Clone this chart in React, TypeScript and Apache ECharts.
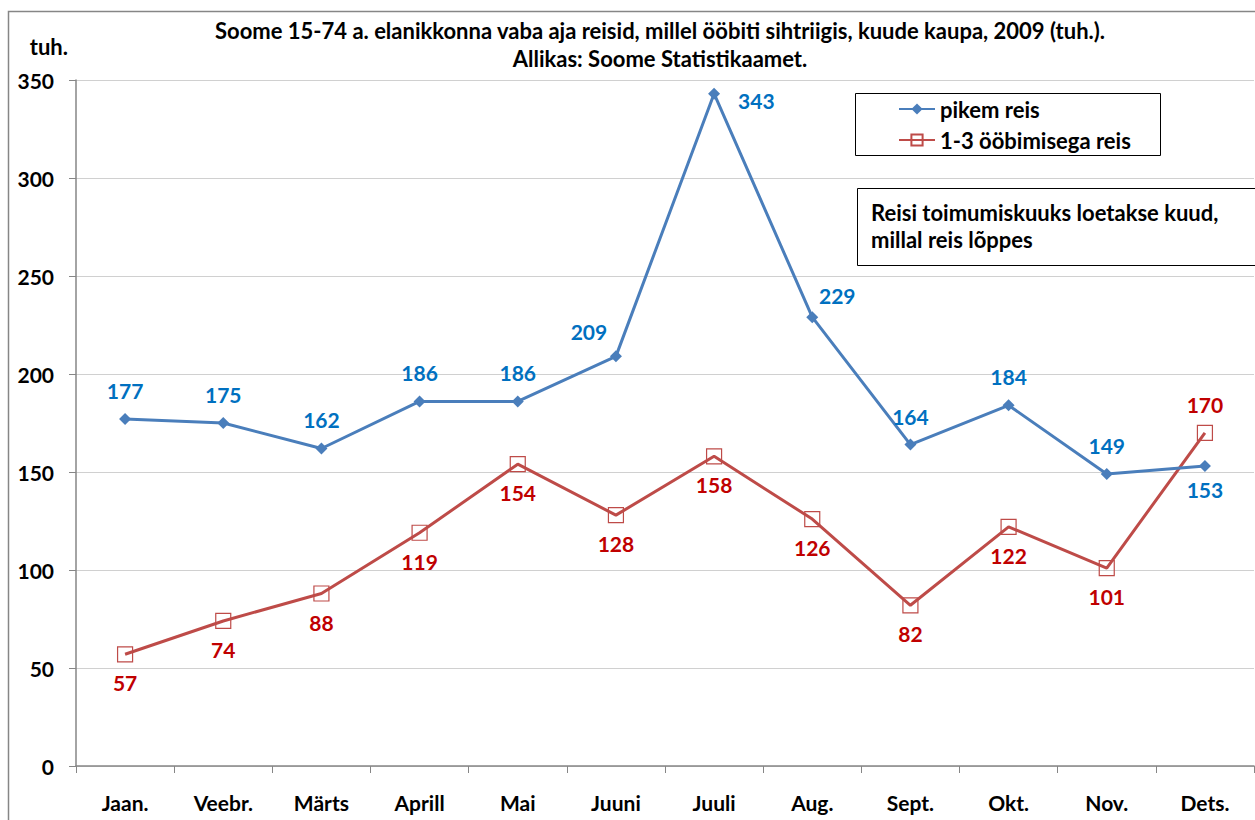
import React, { useEffect, useRef } from "react";
import * as echarts from "echarts";

const months = ["Jaan.", "Veebr.", "Märts", "Aprill", "Mai", "Juuni", "Juuli", "Aug.", "Sept.", "Okt.", "Nov.", "Dets."];
const pikemReis = [177, 175, 162, 186, 186, 209, 343, 229, 164, 184, 149, 153];
const lyhikeReis = [57, 74, 88, 119, 154, 128, 158, 126, 82, 122, 101, 170];
const seriesNames = ["pikem reis", "1-3 ööbimisega reis"];
const titleLines = [
  "Soome 15-74 a. elanikkonna vaba aja reisid, millel ööbiti sihtriigis, kuude kaupa, 2009 (tuh.).",
  "Allikas: Soome Statistikaamet.",
];
const noteText = "Reisi toimumiskuuks loetakse kuud,\nmillal reis lõppes";

const FONT = "Lato, 'Open Sans', sans-serif";
const BLUE = "#4A7EBB";
const BLUE_LABEL = "#0070C0";
const RED = "#BE4B48";
const RED_LABEL = "#C00000";

export default function App() {
  const ref = useRef<HTMLDivElement>(null);
  useEffect(() => {
    if (!ref.current) return;
    const chart = echarts.init(ref.current, null, { renderer: "svg" });
    const blueData = pikemReis.map((v, i) => {
      let label: any = { position: "top" };
      if (i === 5) label = { position: "top", offset: [-27, 4] };
      if (i === 7) label = { position: "top", offset: [25, 7] };
      if (i === 6) label = { position: "right", distance: 18, offset: [0, 7] };
      if (i === 11) label = { position: "bottom", distance: 7 };
      return { value: v, label };
    });
    const redData = lyhikeReis.map((v, i) => ({
      value: v,
      label: { position: i === 11 ? "top" : "bottom" },
    }));
    chart.setOption({
      animation: false,
      backgroundColor: "#fff",
      textStyle: { fontFamily: FONT },
      title: {
        text: titleLines.join("\n"),
        left: 655,
        textAlign: "center",
        top: 11,
        textStyle: { fontFamily: FONT, fontSize: 22, fontWeight: "bold", color: "#000", lineHeight: 28 },
      },
      grid: { left: 76, top: 80, right: 1, bottom: 54, containLabel: false },
      legend: {
        orient: "vertical",
        left: 893,
        top: 93,
        itemWidth: 36,
        itemHeight: 14,
        itemGap: 9,
        textStyle: { fontFamily: FONT, fontSize: 22, fontWeight: "bold", color: "#000" },
        data: seriesNames,
      },
      xAxis: {
        type: "category",
        data: months,
        boundaryGap: true,
        axisLine: { lineStyle: { color: "#868686", width: 1.5 } },
        axisTick: { show: true, length: 7, alignWithLabel: false, lineStyle: { color: "#868686" } },
        axisLabel: { fontFamily: FONT, fontSize: 21, fontWeight: "bold", color: "#000", margin: 26, interval: 0 },
        splitLine: { show: false },
      },
      yAxis: {
        type: "value",
        min: 0,
        max: 350,
        interval: 50,
        axisLine: { show: true, lineStyle: { color: "#868686", width: 1.5 } },
        axisTick: { show: true, length: 7, lineStyle: { color: "#868686" } },
        axisLabel: { fontFamily: FONT, fontSize: 21, fontWeight: "bold", color: "#000", margin: 22 },
        splitLine: { lineStyle: { color: "#D0D0D0", width: 1 } },
        name: "tuh.",
        nameLocation: "end",
        nameGap: 23,
        nameTextStyle: { fontFamily: FONT, fontSize: 22, fontWeight: "bold", color: "#000", align: "right", padding: [0, 8, 0, 0] },
      },
      series: [
        {
          name: seriesNames[0],
          type: "line",
          data: blueData,
          symbol: "diamond",
          symbolSize: 12,
          lineStyle: { color: BLUE, width: 3 },
          itemStyle: { color: BLUE },
          label: {
            show: true,
            distance: 12,
            fontFamily: FONT,
            fontSize: 21,
            fontWeight: "bold",
            color: BLUE_LABEL,
          },
          z: 3,
        },
        {
          name: seriesNames[1],
          type: "line",
          data: redData,
          symbol: "rect",
          symbolSize: 15,
          lineStyle: { color: RED, width: 3 },
          itemStyle: { color: "rgba(255,255,255,0)", borderColor: RED, borderWidth: 1.2 },
          label: {
            show: true,
            distance: 10,
            fontFamily: FONT,
            fontSize: 21,
            fontWeight: "bold",
            color: RED_LABEL,
          },
          z: 2,
        },
      ],
      graphic: [
        {
          type: "rect",
          shape: { x: 8.5, y: 11.5, width: 1260, height: 830 },
          style: { fill: "none", stroke: "#868686", lineWidth: 1.5 },
          silent: true,
          z: -10,
        },
        {
          type: "rect",
          shape: { x: 855.5, y: 93.5, width: 305, height: 62 },
          style: { fill: "#fff", stroke: "#000", lineWidth: 1 },
          z: -1,
        },
        {
          type: "rect",
          shape: { x: 857.5, y: 188.5, width: 410, height: 77 },
          style: { fill: "#fff", stroke: "#000", lineWidth: 1 },
          z: 10,
        },
        {
          type: "text",
          x: 871,
          y: 199,
          style: {
            text: noteText,
            fontFamily: FONT,
            fontSize: 22,
            fontWeight: "bold",
            fill: "#000",
            lineHeight: 27,
          },
          z: 11,
        },
      ],
    });
    return () => chart.dispose();
  }, []);
  return (
    <div
      ref={ref}
      style={{ position: "absolute", left: 0, top: 0, width: 1255, height: 820 }}
    />
  );
}
